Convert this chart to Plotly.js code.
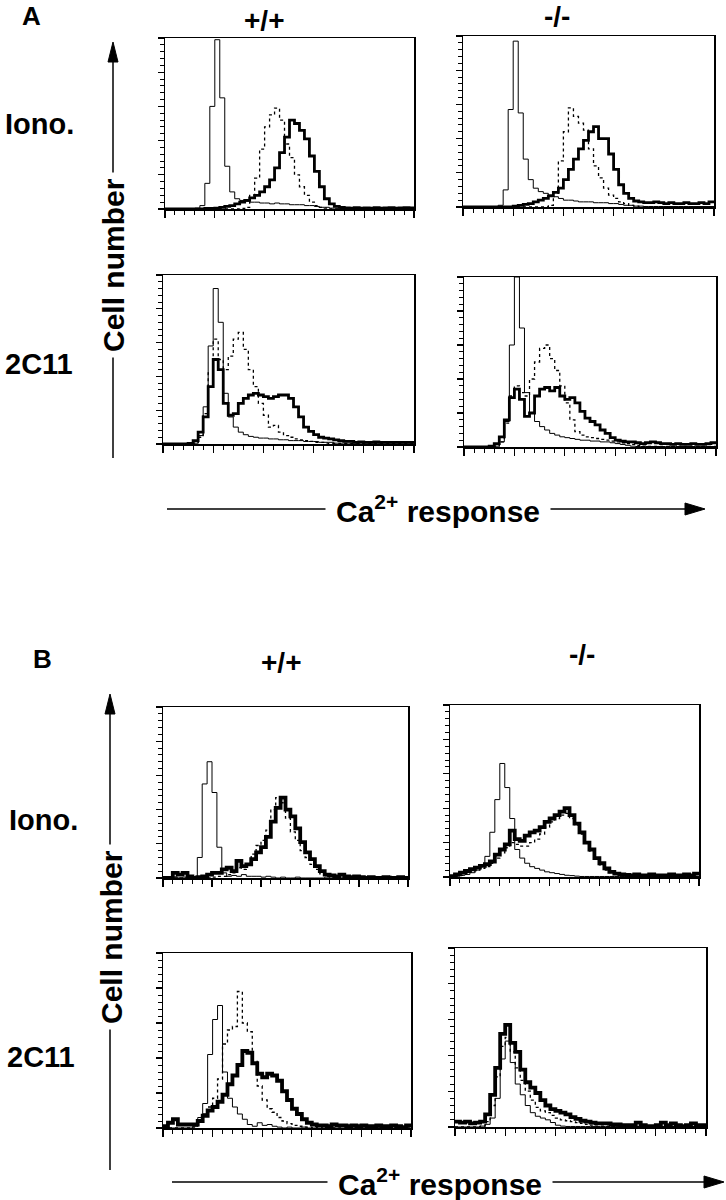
<!DOCTYPE html>
<html>
<head>
<meta charset="utf-8">
<script src="https://cdn.plot.ly/plotly-3.0.1.min.js"></script>
<style>
  html, body { margin: 0; padding: 0; background: #fff; }
  #chart { width: 726px; height: 1200px; }
</style>
</head>
<body>
<div id="chart"></div>
<script>
// channel bins (left edge of each 5-channel bin)
const chan = [0,5,10,15,20,25,30,35,40,45,50,55,60,65,70,75,80,85,90,95,100,105,110,115,120,125,130,135,140,145,150,155,160,165,170,175,180,185,190,195,200,205,210,215,220,225,230,235,240,245];

// Panel A, Iono., +/+
const a1Ctrl  = [0,0,0,0,0,0,0.5,2,15,60,99,65,25,10,6,5,4.5,4,4,3.5,3.5,3,3.5,3,3,2.5,2.5,2.5,2,2,1.5,1,1,0.5,0.5,0.3,0.3,0.3,0.2,0.2,0.2,0.2,0.2,0.2,0.2,0.2,0.2,0.2,0.2,0.2];
const a1Dot   = [0,0,0,0,0,0,0,0,0,0,0,0,0,0,0,0.3,1,8,18,35,48,55,59,52,38,30,20,13,8,4,2,1,0.5,0,0,0,0,0,0,0,0,0,0,0,0,0,0,0,0,0];
const a1Thick = [0,0,0,0,0,0,0,0,0.3,0.3,0.5,1,1.5,2,3,4,5,6.5,8,10,13,17,24,33,42,52,50,46,41,31,22,13,6,3,1.5,1,0.6,0.5,0.8,0.5,0.6,0.5,0.8,0.5,0.6,0.8,0.5,0.6,0.8,0.7];
// Panel A, Iono., -/-
const a2Ctrl  = [0,0,0,0,0,0,0,1,10,57,97,55,28,16,11,9,8,7,6,5,4,4,3.5,3,3,3,2.5,2.5,2.5,2,2,1.5,1,1,0.5,0.5,0.3,0.3,0.3,0.3,0.3,0.3,0.3,0.3,0.3,0.3,0.3,0.3,0.3,0.3];
const a2Dot   = [0,0,0,0,0,0,0,0,0,0,0,0,0,0,0,0,0,1,8,27,44,58,53,49,45,34,24,17,11,7,5,3,2,1,0.5,0,0,0,0,0,0,0,0,0,0,0,0,0,0,0];
const a2Thick = [0,0,0,0,0,0,0,0,0,0,0.5,1,1.5,2,3,4,5,6.5,8.5,11,16,22,28,34,39,44,47,40,40,31,22,13,8,5,3.5,3,2.5,2.5,3,2.5,2,2.5,2,2,2.5,2,2,2.5,2,3];
// Panel A, 2C11, +/+
const a3Ctrl  = [0,0,0,0,0,0,0.5,5,22,58,92,72,30,16,10,7,5.5,4.5,4,3.5,3.5,3,3,2.5,2.5,2,2,2,1.5,1.5,1.5,1,1,1,0.5,0.5,0.5,0.5,0.5,0.5,0.5,0.5,0.5,0.5,0.5,0.5,0.5,0.5,0.5,0.5];
const a3Dot   = [0,0,0,0,0,0,0.5,4,18,42,62,50,44,52,62,66,56,44,34,24,17,10,11,7,5,4,3,2.5,2,1.5,1,1,0.5,0.3,0.3,0.3,0.3,0.3,0.3,0.3,0.3,0.3,0.3,0.3,0.3,0.3,0.3,0.3,0.3,0.3];
const a3Thick = [0,0,0,0,0,0.3,2,7,16,34,50,44,24,17,18,24,27,29,30,29,28,27,28,29,29,27,22,16,10,7.5,5.5,4,3.5,3,2.5,2,1.5,1.5,1,1.2,1,1,1.2,1,1,1,1,1,1,1];
// Panel A, 2C11, -/-
const a4Ctrl  = [0,0,0,0,0,0,0.5,3,15,60,100,70,32,20,15,12,10,8,7,6,5.5,5,4.5,4,4,3.5,3.5,3,3,2.5,2,1.5,1,0.5,0.3,0.3,0.3,0.3,0.3,0.3,0.3,0.3,0.3,0.3,0.3,0.3,0.3,0.3,0.3,0.3];
const a4Dot   = [0,0,0,0,0,0,0.5,3,14,30,36,32,30,40,50,58,60,52,45,36,26,16,9,7,6,5.5,5,4.5,4,3.5,3,2.5,2,1.5,1,0.5,0.3,0.3,0.3,0.3,0.3,0.3,0.3,0.3,0.3,0.3,0.3,0.3,0.3,0.3];
const a4Thick = [0,0,0,0,0,0.5,2,6,16,29,34,28,18,20,30,34,35,33,35,30,28,29,26,21,17,15,13,10,8,5.5,4,3.5,3,3,2.5,2,2.5,3,2.5,2,2,1.5,2,1.5,1.5,2,1.5,1.5,2,2.5];

// Panel B, Iono., +/+
const b1Ctrl  = [0.5,0,0.5,0,0.5,0,0.5,12,55,68,50,18,3,1,1.5,1,2,1,1,1,0.5,1,0.5,0,0.5,0,0,0.5,0,0,0,0,0,0.5,0,0,0,0,0,0,0,0,0,0,0,0,0,0,0,0];
const b1Dot   = [0,0,0.5,0,0,0,0,0,0.5,0,0.5,1,1,2,3,6,5,8,14,19,22,28,40,47,44,35,27,22,16,12,8,5,2.5,1,0.5,1,0.5,0,1,0,0,0.5,0,0,0,0,1,0,0,0];
const b1Thick = [0,0,3,2,3,1,0,0.5,1,2,3,3,5,6,4,10,7,8,11,15,18,24,33,41,47,40,36,29,21,15,11,7,4,2,1.5,1,2,1,0.5,1,0.5,0,0.5,0,0,0.5,0,0,0.5,0];
// Panel B, Iono., -/-
const b2Ctrl  = [0,0.5,1,1.5,2.5,4,7,12,26,45,66,52,34,16,11,8,6,5,4,3,2.5,2,1.5,1,0.8,0.5,0.3,0.3,0.3,0.3,0.3,0.3,0.3,0.3,0.3,0.3,0.3,0.3,0.3,0.3,0.3,0.3,0.3,0.3,0.3,0.3,0.3,0.3,0.3,0.3];
const b2Dot   = [0,0.5,1,2,3,4,5,6,8,11,14,17,20,19,18,18,20,22,25,29,32,34,36,37,34,30,25,20,15,11,7,4,2.5,1.5,1,0.8,0.5,0.5,0.3,0.3,0.3,0.3,0.3,0.3,0.3,0.3,0.3,0.3,0.3,0.3];
const b2Thick = [0.5,1.5,2.5,3.5,4.5,5.5,6.5,7.5,9,13,16,19,27,22,21,24,26,27,29,32,34,36,38,40,36,31,26,20,16,11,8,5,3,2,1.5,1.2,1,1.5,1,1,1.5,1,1,1,1.5,1,1,1.5,1,2];
// Panel B, 2C11, +/+
const b3Ctrl  = [0,0,0,0,0,0,1,6,14,42,62,70,32,17,12,8,5,2,1,3,1.5,2,1,0.5,0,0.5,0,0,0.5,0,0,0,0,0,0,0,0,0,0,0,0,0,0,0,0,0,0,0,0,0];
const b3Dot   = [0,0,0,0,0,0,0.5,4,8,12,17,28,48,56,58,78,60,55,38,24,16,11,9,6,4,2.5,1.5,1,0.5,0.5,0,0.5,0,0,0,0,0,0.5,0,0,0,0.5,0,0,0,0,0,0,0,0];
const b3Thick = [1,3,5,2,2,2,2,4,7,10,12,15,19,25,30,36,44,43,37,31,29,31,30,27,21,16,11,8,5,3,2,1.5,1.5,1,2,1.5,1.5,1,1.5,1,1.5,1,1,1.5,1,1,1.5,1,0.5,1.5];
// Panel B, 2C11, -/-
const b4Ctrl  = [0,0,0,0,0,0.5,1.5,5,16,38,48,36,24,18,12,8,6,5,4,2.5,1,0.5,0.3,0.3,0.3,0.3,0.3,0.3,0.3,0.3,0.3,0.3,0.3,0.3,0.3,0.3,0.3,0.3,0.3,0.3,0.3,0.3,0.3,0.3,0.3,0.3,0.3,0.3,0.3,0.3];
const b4Dot   = [0,0,0,0,0,0.5,3,12,28,45,50,42,33,26,20,15,11,9,8,6.5,5,4,3.5,3,2.5,2,1.5,1,0.5,0.5,0.5,0.3,0.3,0.3,0.3,0.3,0.3,0.3,0.3,0.3,0.3,0.3,0.3,0.3,0.3,0.3,0.3,0.3,0.3,0.3];
const b4Thick = [3,2.5,3,2,2.5,3,7,18,33,52,57,47,42,32,25,22,19,15,12,10,9,8,7,5.5,4.5,3.5,3,2.5,2,2,2,1.5,1.5,1,1,1,2.5,1,0.5,0.5,1,2.5,1,2,1,0.5,1,2,1,1];

const panelData = [
  [a1Ctrl, a1Dot, a1Thick], [a2Ctrl, a2Dot, a2Thick],
  [a3Ctrl, a3Dot, a3Thick], [a4Ctrl, a4Dot, a4Thick],
  [b1Ctrl, b1Dot, b1Thick], [b2Ctrl, b2Dot, b2Thick],
  [b3Ctrl, b3Dot, b3Thick], [b4Ctrl, b4Dot, b4Thick]
];

const W = 726, H = 1200;
const px = x => x / W;
const py = y => 1 - y / H;

// panel frames in page pixels: left, right, top, bottom
const frames = [
  [165, 414, 38, 209], [463, 714, 36, 207],
  [163, 414, 275, 444], [464, 716, 277, 447],
  [163, 408, 707, 878], [450, 699, 705, 877],
  [163, 411, 953, 1128], [455, 706, 948, 1127]
];

const FONT = 'Liberation Sans, Arial, Helvetica, sans-serif';
const traces = [];
const layout = {
  width: W, height: H,
  margin: { l: 0, r: 0, t: 0, b: 0 },
  paper_bgcolor: '#fff', plot_bgcolor: '#fff',
  showlegend: false,
  font: { family: FONT, color: '#000' },
  shapes: [], annotations: []
};

const xs = chan.concat([250]);
panelData.forEach((set, i) => {
  const s = i === 0 ? '' : String(i + 1);
  const f = frames[i];
  const thickW = i < 4 ? 2.8 : 3.8;
  const styles = [
    { width: 1, dash: 'solid' },
    { width: 1.3, dash: 'dot' },
    { width: thickW, dash: 'solid' }
  ];
  [1, 0, 2].forEach(k => {
    const v = set[k];
    traces.push({
      x: xs, y: v.concat([v[v.length - 1]]),
      xaxis: 'x' + s, yaxis: 'y' + s,
      type: 'scatter', mode: 'lines',
      line: { color: '#000', width: styles[k].width, dash: styles[k].dash, shape: 'hv' },
      hoverinfo: 'skip'
    });
  });
  layout['xaxis' + s] = {
    domain: [px(f[0]), px(f[1])], anchor: 'y' + s, range: [0, 250],
    showline: true, mirror: true, linecolor: '#000', linewidth: 1.5,
    ticks: 'outside', ticklen: 7, tickwidth: 1.3, tickcolor: '#000',
    tick0: 0, dtick: 50, showticklabels: false,
    showgrid: false, zeroline: false, fixedrange: true,
    minor: { ticks: 'outside', ticklen: 4, tickwidth: 1, tickcolor: '#000', dtick: 10, showgrid: false }
  };
  layout['yaxis' + s] = {
    domain: [py(f[3]), py(f[2])], anchor: 'x' + s, range: [0, 100],
    showline: true, mirror: true, linecolor: '#000', linewidth: 1.5,
    ticks: 'outside', ticklen: 6, tickwidth: 1.3, tickcolor: '#000',
    tick0: 0, dtick: 20, showticklabels: false,
    showgrid: false, zeroline: false, fixedrange: true,
    minor: { ticks: 'outside', ticklen: 3.5, tickwidth: 1, tickcolor: '#000', dtick: 4, showgrid: false }
  };
});

// text labels
function label(text, x, y, size, opts) {
  layout.annotations.push(Object.assign({
    text: '<b>' + text + '</b>', xref: 'paper', yref: 'paper',
    x: px(x), y: py(y), xanchor: 'center', yanchor: 'middle',
    showarrow: false, font: { family: FONT, size: size, color: '#000' }
  }, opts || {}));
}
label('A', 31, 16, 26);
label('+/+', 264, 20, 28);
label('-/-', 557, 17, 28);
label('Iono.', 3, 124, 29, { xanchor: 'left' });
label('2C11', 3, 364, 29, { xanchor: 'left' });
label('B', 42, 659, 26);
label('+/+', 281, 662, 28);
label('-/-', 582, 655, 28);
label('Iono.', 7, 820, 29, { xanchor: 'left' });
label('2C11', 5, 1057, 29, { xanchor: 'left' });

label('Cell number', 113, 265, 30, { textangle: -90, bgcolor: '#fff', borderpad: 5 });
label('Cell number', 111, 937, 30, { textangle: -90, bgcolor: '#fff', borderpad: 5 });
label('Ca<sup>2+</sup> response', 438, 509, 30, { bgcolor: '#fff', borderpad: 10 });
label('Ca<sup>2+</sup> response', 440, 1182, 30, { bgcolor: '#fff', borderpad: 10 });

// axis arrows: line + filled head
function arrowLine(x0, y0, x1, y1) {
  layout.shapes.push({
    type: 'line', xref: 'paper', yref: 'paper', layer: 'below',
    x0: px(x0), y0: py(y0), x1: px(x1), y1: py(y1),
    line: { color: '#000', width: 1.5 }
  });
}
function head(d) {
  layout.shapes.push({
    type: 'path', xref: 'paper', yref: 'paper', layer: 'below',
    path: d, fillcolor: '#000', line: { color: '#000', width: 1 }
  });
}
function upHead(x, y) {
  head(`M${px(x)},${py(y)} L${px(x - 5)},${py(y + 20)} L${px(x + 5)},${py(y + 20)} Z`);
}
function rightHead(x, y) {
  head(`M${px(x)},${py(y)} L${px(x - 20)},${py(y - 6)} L${px(x - 20)},${py(y + 6)} Z`);
}
arrowLine(113, 55, 113, 458); upHead(113, 42);
arrowLine(110, 710, 110, 1170); upHead(110, 694);
arrowLine(167, 509, 690, 509); rightHead(705, 509);
arrowLine(172, 1182, 708, 1182); rightHead(724, 1182);

Plotly.newPlot('chart', traces, layout, { displayModeBar: false, staticPlot: true });
</script>
</body>
</html>
